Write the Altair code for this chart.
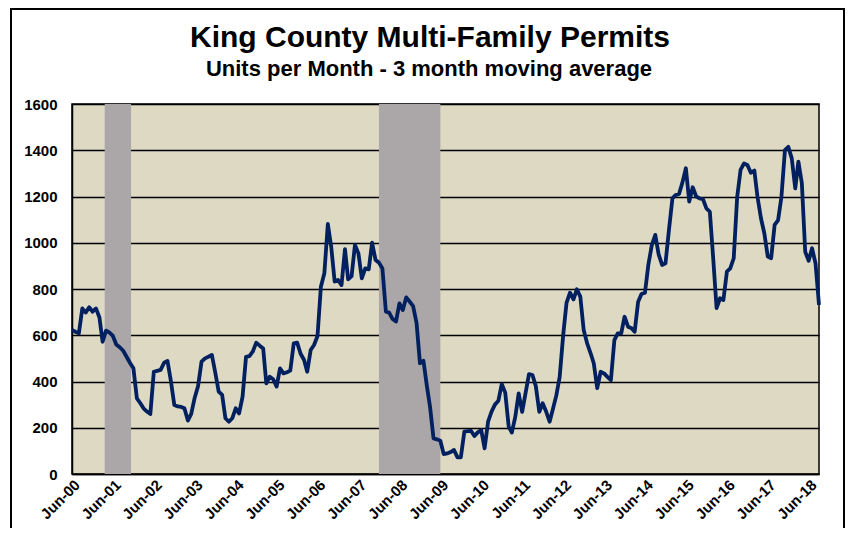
import altair as alt
import pandas as pd

# ---------------- data ----------------
start_month = "2000-06-01"
# 3-month moving average of multi-family permit units, monthly from Jun-2000
values = [
    623, 615, 608, 716, 698, 721, 702, 716, 677, 572,
    620, 612, 597, 560, 548, 533, 507, 480, 457, 327,
    306, 284, 270, 259, 442, 446, 450, 481, 489, 400,
    298, 292, 290, 284, 231, 260, 330, 380, 486, 500,
    507, 515, 440, 356, 342, 241, 226, 241, 284, 262,
    334, 507, 510, 530, 568, 555, 543, 392, 421, 410,
    378, 457, 435, 440, 447, 565, 568, 520, 493, 442,
    536, 558, 597, 810, 868, 1081, 983, 832, 839, 817,
    972, 842, 856, 990, 954, 846, 889, 885, 1000, 925,
    914, 889, 702, 698, 670, 659, 738, 709, 764, 745,
    726, 652, 479, 490, 380, 291, 154, 150, 144, 86,
    89, 95, 104, 72, 72, 183, 185, 187, 164, 180,
    190, 111, 226, 270, 300, 317, 389, 352, 205, 179,
    248, 349, 269, 349, 432, 428, 380, 269, 306, 270,
    226, 280, 340, 420, 600, 740, 784, 755, 799, 767,
    623, 565, 522, 479, 371, 442, 435, 420, 406, 579,
    608, 608, 680, 637, 630, 615, 745, 778, 784, 904,
    990, 1034, 950, 904, 911, 1055, 1192, 1206, 1211, 1260,
    1322, 1178, 1240, 1200, 1192, 1188, 1149, 1134, 925, 717,
    760, 752, 875, 889, 933, 1199, 1315, 1343, 1336, 1303,
    1312, 1199, 1106, 1041, 940, 933, 1077, 1098, 1199, 1401,
    1415, 1365, 1235, 1351, 1257, 961, 922, 976, 911, 731,
]

# recession periods (shaded)
rec_start = ["2001-03-20T00:00:00", "2007-12-01T00:00:00"]
rec_end = ["2001-11-10T00:00:00", "2009-06-01T00:00:00"]

y_ticks = [0, 200, 400, 600, 800, 1000, 1200, 1400, 1600]
x_tick_years = list(range(2000, 2019))

title_text = "King County Multi-Family Permits"
subtitle_text = "Units per Month - 3 month moving average"

# ---------------- tables ----------------
dates = pd.date_range(start_month, periods=len(values), freq="MS").strftime("%Y-%m-%dT%H:%M:%S")
df = pd.DataFrame({"date": list(dates), "units": values})
rec_df = pd.DataFrame({
    "start": rec_start,
    "end": rec_end,
    "lo": [y_ticks[0]] * len(rec_start),
    "hi": [y_ticks[-1]] * len(rec_start),
})

FONT = "Liberation Sans"
W, H = 747, 370

x_scale = alt.Scale(domain=[alt.DateTime(year=2000, month=6, date=1),
                            alt.DateTime(year=2018, month=9, date=1)])
y_scale = alt.Scale(domain=[0, 1600], nice=False)

x_axis = alt.Axis(
    title=None,
    values=[alt.DateTime(year=y, month=6, date=1) for y in x_tick_years],
    format="%b-%y",
    labelAngle=-45,
    labelFont=FONT,
    labelFontSize=15,
    labelFontWeight="bold",
    labelColor="black",
    labelPadding=3,
    ticks=False,
    tickSize=0,
    grid=False,
    domainColor="black",
    domainWidth=1.5,
    labelOverlap=False,
)
y_axis = alt.Axis(
    title=None,
    values=y_ticks,
    format="d",
    labelFont=FONT,
    labelFontSize=15,
    labelFontWeight="bold",
    labelColor="black",
    labelPadding=15,
    ticks=False,
    tickSize=0,
    grid=True,
    gridColor="black",
    gridWidth=1.5,
    gridOpacity=1,
    domainColor="black",
    domainWidth=1.5,
)

recessions = alt.Chart(rec_df).mark_rect(color="#ABA7A8", opacity=1).encode(
    x=alt.X("start:T", scale=x_scale, axis=x_axis),
    x2="end:T",
    y=alt.Y("lo:Q", scale=y_scale, axis=y_axis),
    y2="hi:Q",
)

line = alt.Chart(df).mark_line(color="#002060", strokeWidth=3.8, strokeJoin="round").encode(
    x=alt.X("date:T", scale=x_scale, axis=x_axis),
    y=alt.Y("units:Q", scale=y_scale, axis=y_axis),
)

frame = alt.Chart(alt.Data(values=[{"f": 1}])).mark_rect(
    fillOpacity=0, stroke="black", strokeWidth=2
).encode(
    x=alt.value(-61), x2=alt.value(772), y=alt.value(-95), y2=alt.value(470)
)

title_mark = alt.Chart(alt.Data(values=[{"t": title_text}])).mark_text(
    font=FONT, fontSize=30, fontWeight="bold", color="black",
    align="center", baseline="alphabetic",
).encode(text="t:N", x=alt.value(358), y=alt.value(-57))

subtitle_mark = alt.Chart(alt.Data(values=[{"t": subtitle_text}])).mark_text(
    font=FONT, fontSize=22, fontWeight="bold", color="black",
    align="center", baseline="alphabetic",
).encode(text="t:N", x=alt.value(357), y=alt.value(-28))

chart = alt.layer(recessions, line, frame, title_mark, subtitle_mark).properties(
    width=W,
    height=H,
    autosize="none",
    padding={"left": 64, "top": 96, "right": 26, "bottom": 54},
    background="white",
).configure_view(
    fill="#DED9C3",
    stroke="black",
    strokeWidth=1.5,
)

chart.save("out.html", embed_options={"renderer": "svg", "actions": False})
